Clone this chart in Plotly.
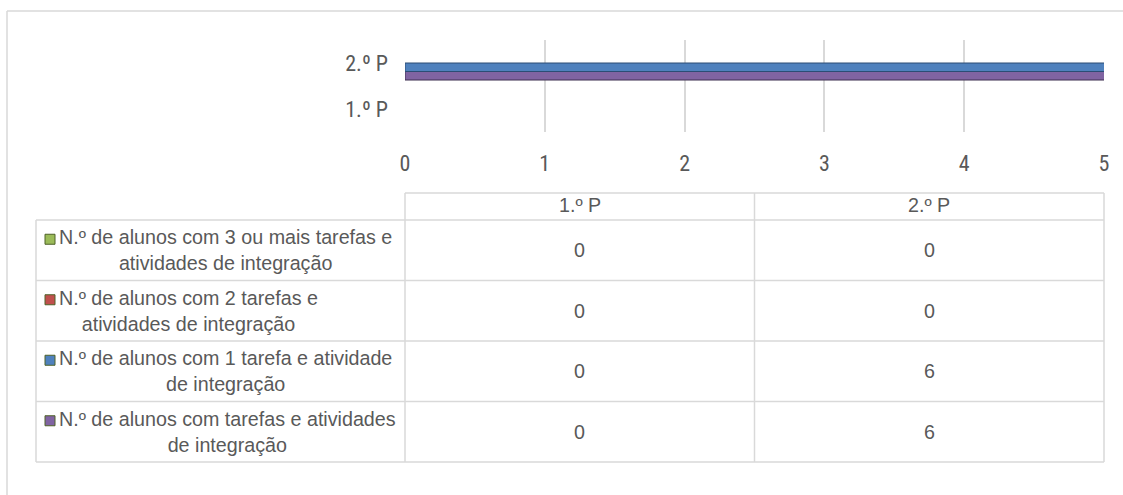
import plotly.graph_objects as go

# ---- data ----
categories = ["1.º P", "2.º P"]
series_names = [
    "N.º de alunos com 3 ou mais tarefas e<br>atividades de integração",
    "N.º de alunos com 2 tarefas e<br>atividades de integração",
    "N.º de alunos com 1 tarefa e atividade<br>de integração",
    "N.º de alunos com tarefas e atividades<br>de integração",
]
vals_3mais = [0, 0]
vals_2 = [0, 0]
vals_1 = [0, 6]
vals_total = [0, 6]
x_ticks = [0, 1, 2, 3, 4, 5]

series_values = [vals_3mais, vals_2, vals_1, vals_total]
colors = ["#9BBB59", "#C0504D", "#4F81BD", "#8064A2"]
edge = ["#4f6228", "#632523", "#2c4d75", "#3f3151"]

# ---- layout constants (pixels) ----
W, H = 1123, 495
PL, PR, PT, PB = 405, 1104, 40, 132   # plot area
AX_FONT = "Liberation Sans Narrow, Arial Narrow, Roboto Condensed, Liberation Sans, sans-serif"
TB_FONT = "Liberation Sans, Arial, sans-serif"
TXT = "#595959"
GRID = "#d9d9d9"

def px(x):
    return (x - PL) / (PR - PL)

def py(y):
    return (PB - y) / (PB - PT)

fig = go.Figure()
# bars: bottom-most in group is last table row
for name, vals, col, ed in reversed(list(zip(series_names, series_values, colors, edge))):
    fig.add_trace(go.Bar(
        y=categories, x=vals, orientation="h", name=name.replace("<br>", " "),
        marker=dict(color=col, line=dict(color=ed, width=[1 if v else 0 for v in vals])),
        showlegend=False, hoverinfo="skip",
    ))

shapes = []
annotations = []

def hline(y, x0, x1):
    shapes.append(dict(type="line", xref="paper", yref="paper",
                       x0=px(x0), x1=px(x1), y0=py(y), y1=py(y),
                       line=dict(color=GRID, width=1.5)))

def vline(x, y0, y1):
    shapes.append(dict(type="line", xref="paper", yref="paper",
                       x0=px(x), x1=px(x), y0=py(y0), y1=py(y1),
                       line=dict(color=GRID, width=1.5)))

# outer chart frame (left and top)
hline(11, 7, W + 5)
vline(7, 11, H + 5)

# data table
tbl_top, hdr_bot = 193, 220
row_h = 60.5
n_rows = len(series_names)
row_lines = [hdr_bot + i * row_h for i in range(n_rows + 1)]
col_edges = [PL + i * (PR - PL) / len(categories) for i in range(len(categories) + 1)]
leg_left = 36

hline(tbl_top, PL, PR)
for y in row_lines:
    hline(y, leg_left, PR)
for x in col_edges:
    vline(x, tbl_top, row_lines[-1])
vline(leg_left, hdr_bot, row_lines[-1])

tfont = dict(family=TB_FONT, size=19.7, color=TXT)
# header
for i, c in enumerate(categories):
    annotations.append(dict(xref="paper", yref="paper",
                            x=px((col_edges[i] + col_edges[i + 1]) / 2),
                            y=py((tbl_top + hdr_bot) / 2 - 2),
                            text=c, showarrow=False, font=tfont,
                            xanchor="center", yanchor="middle"))
# rows
for r, (name, vals, col) in enumerate(zip(series_names, series_values, colors)):
    yc = (row_lines[r] + row_lines[r + 1]) / 2
    for i, v in enumerate(vals):
        annotations.append(dict(xref="paper", yref="paper",
                                x=px((col_edges[i] + col_edges[i + 1]) / 2),
                                y=py(yc), text=str(v), showarrow=False, font=tfont,
                                xanchor="center", yanchor="middle"))
    annotations.append(dict(xref="paper", yref="paper",
                            x=px(57), y=py(yc), text=name, showarrow=False,
                            font=tfont, align="center",
                            xanchor="left", yanchor="middle"))
    # legend key
    iy = yc - 11
    shapes.append(dict(type="rect", xref="paper", yref="paper",
                       x0=px(45), x1=px(55), y0=py(iy - 5), y1=py(iy + 5),
                       fillcolor=col, line=dict(color=ed, width=1)))

afont = dict(family=AX_FONT, size=22, color=TXT)
fig.update_layout(
    width=W, height=H, autosize=False,
    margin=dict(l=PL, r=W - PR, t=PT, b=H - PB),
    paper_bgcolor="white", plot_bgcolor="white",
    barmode="group", bargap=0.26, bargroupgap=0,
    font=afont,
    xaxis=dict(range=[0, 5], tickvals=x_ticks, showgrid=True, gridcolor=GRID,
               gridwidth=1.5, zeroline=False, showline=False, ticks="",
               ticklabelstandoff=16, tickfont=afont, fixedrange=True),
    yaxis=dict(type="category", categoryorder="array", categoryarray=categories,
               showgrid=False, zeroline=False, showline=False, ticks="",
               ticklabelstandoff=16, tickfont=afont, fixedrange=True),
    shapes=shapes, annotations=annotations,
)

fig.write_html("out.html", config={"displayModeBar": False},
               post_script="document.body.style.margin='0';")
